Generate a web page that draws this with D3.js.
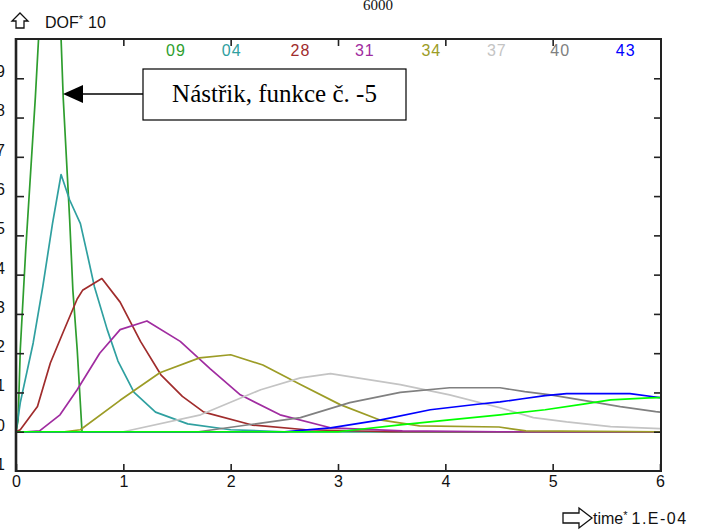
<!DOCTYPE html>
<html><head><meta charset="utf-8">
<script src="https://cdn.jsdelivr.net/npm/d3@7"></script>
<style>
html,body{margin:0;padding:0;background:#fff;}
svg{display:block;}
text{font-family:"Liberation Sans",Arial,sans-serif;}
</style></head>
<body>
<script>
// ---- data ----
const xTicks = [0,1,2,3,4,5,6];
const yTicks = [-1,0,1,2,3,4,5,6,7,8,9];
const seriesNames  = ["09","04","28","31","34","37","40","43",""];
const seriesColors = ["#2e9e2e","#2fa0a0","#a02c2c","#a02ca0","#9c9c26","#c4c4c4","#808080","#0000ff","#00ff00"];

const s09 = [[0,0],[0.02,0.3],[0.04,2.1],[0.09,4.6],[0.18,8.5],[0.21,10],[0.3,14],[0.42,10],[0.44,8.5],[0.50,5.4],[0.53,3.6],[0.57,2.1],[0.615,0],[6,0]];
const s04 = [[0,0],[0.04,0.74],[0.16,2.26],[0.25,3.7],[0.34,5.3],[0.42,6.55],[0.50,5.9],[0.60,5.3],[0.67,4.45],[0.73,3.7],[0.85,2.6],[0.95,1.8],[1.1,1.0],[1.3,0.5],[1.6,0.2],[2.0,0.05],[2.5,0],[6,0]];
const s28 = [[0,0],[0.04,0.05],[0.2,0.64],[0.32,1.75],[0.44,2.54],[0.57,3.38],[0.62,3.6],[0.8,3.9],[0.97,3.3],[1.16,2.3],[1.35,1.45],[1.55,0.9],[1.75,0.5],[2.2,0.17],[2.7,0.05],[3.5,0],[6,0]];
const s31 = [[0,0],[0.1,0],[0.22,0.02],[0.41,0.43],[0.57,1.07],[0.78,2.0],[0.97,2.6],[1.22,2.82],[1.53,2.3],[1.81,1.6],[2.09,0.94],[2.46,0.43],[2.93,0.1],[3.6,0.02],[4.5,0],[6,0]];
const s34 = [[0,0],[0.45,0],[0.6,0.05],[0.97,0.8],[1.34,1.5],[1.71,1.88],[2.0,1.96],[2.3,1.7],[2.65,1.2],[3.02,0.69],[3.39,0.3],[3.76,0.15],[4.5,0.12],[4.75,0.02],[6,0]];
const s37 = [[0,0],[1.0,0],[1.72,0.43],[2.28,1.07],[2.65,1.37],[2.93,1.48],[3.58,1.2],[4.04,0.94],[4.51,0.61],[4.82,0.36],[5.13,0.25],[5.54,0.13],[6.0,0.08]];
const s40 = [[0,0],[1.7,0],[2.65,0.36],[3.11,0.74],[3.58,1.0],[4.04,1.12],[4.51,1.12],[4.74,1.02],[4.98,0.94],[5.26,0.81],[5.63,0.64],[5.96,0.51],[6,0.5]];
const s43 = [[0,0],[2.5,0],[2.93,0.1],[3.4,0.3],[3.86,0.56],[4.3,0.7],[4.51,0.76],[4.72,0.84],[4.93,0.92],[5.13,0.97],[5.72,0.97],[5.94,0.89],[6,0.87]];
const sGreen = [[0,0],[3.0,0],[3.6,0.18],[4.04,0.3],[4.51,0.43],[4.93,0.56],[5.3,0.71],[5.54,0.81],[5.9,0.86],[6,0.87]];
const seriesData = [s09,s04,s28,s31,s34,s37,s40,s43,sGreen];
const labelX = [1.49,2.01,2.65,3.25,3.87,4.48,5.07,5.68];

// ---- layout ----
const W=701,H=530;
const svg=d3.select("body").append("svg").attr("width",W).attr("height",H);
const x=d3.scaleLinear().domain([0,6]).range([16,660]);
const y=d3.scaleLinear().domain([-1,10]).range([471,39]);

svg.append("defs").append("clipPath").attr("id","clip")
  .append("rect").attr("x",16).attr("y",39).attr("width",645).attr("height",432);

// curves
const line=d3.line().x(d=>x(d[0])).y(d=>y(d[1]));
const g=svg.append("g").attr("clip-path","url(#clip)");
seriesData.forEach((s,i)=>{
  g.append("path").attr("d",line(s)).attr("fill","none")
   .attr("stroke",seriesColors[i]).attr("stroke-width",1.7)
   .attr("stroke-linejoin","round");
});

// axes
const ax=svg.append("g");
const styleAxis=sel=>{sel.selectAll(".domain").remove();
  sel.selectAll("line").attr("stroke","#222").attr("stroke-width",1.6);
  sel.selectAll("text").attr("fill","#111").style("font-size","16px");};
ax.append("g").attr("transform","translate(0,471)")
  .call(d3.axisBottom(x).tickValues(xTicks).tickSizeInner(-7).tickSizeOuter(0).tickPadding(5).tickFormat(d3.format("d")))
  .call(styleAxis);
ax.append("g").attr("transform","translate(0,39)")
  .call(d3.axisTop(x).tickValues(xTicks.slice(1,-1)).tickSizeInner(-7).tickSizeOuter(0).tickFormat(""))
  .call(styleAxis);
const la=ax.append("g").attr("transform","translate(16,0)")
  .call(d3.axisLeft(y).tickValues(yTicks).tickSizeInner(-8).tickSizeOuter(0).tickPadding(11).tickFormat(d3.format("d")))
  .call(styleAxis);
la.selectAll("text").attr("dy","-0.1em");
la.selectAll(".tick").filter(d=>d===-1).select("line").remove();
ax.append("g").attr("transform","translate(661,0)")
  .call(d3.axisRight(y).tickValues(yTicks.slice(1)).tickSizeInner(-7).tickSizeOuter(0).tickFormat(""))
  .call(styleAxis);

// frame
svg.append("rect").attr("x",16).attr("y",39).attr("width",645).attr("height",432)
  .attr("fill","none").attr("stroke","#222").attr("stroke-width",2);
svg.append("line").attr("x1",16).attr("x2",16).attr("y1",38).attr("y2",472).attr("stroke","#222").attr("stroke-width",2.6);

// series labels at top
labelX.forEach((v,i)=>{
  svg.append("text").attr("x",x(v)).attr("y",56).attr("text-anchor","middle")
    .attr("fill",seriesColors[i]).style("font-size","16px").style("letter-spacing","1px").text(seriesNames[i]);
});

// header
svg.append("path").attr("d","M20,13 L28,21 L24,21 L24,28 L16,28 L16,21 L12,21 Z")
  .attr("fill","#fff").attr("stroke","#111").attr("stroke-width",1.3);
const hd=svg.append("text").attr("x",45).attr("y",28).attr("fill","#111").style("font-size","16px");
hd.append("tspan").text("DOF");
hd.append("tspan").attr("dy",-5).style("font-size","11px").text("*");
hd.append("tspan").attr("dy",5).attr("dx",5).text("10");

// bottom-right unit
svg.append("path").attr("d","M563,513 L579,513 L579,508 L592,518 L579,528 L579,523 L563,523 Z")
  .attr("fill","#fff").attr("stroke","#111").attr("stroke-width",1.3);
const ft=svg.append("text").attr("x",593).attr("y",524).attr("fill","#111").style("font-size","16px");
ft.append("tspan").text("time");
ft.append("tspan").attr("dy",-5).style("font-size","11px").text("*");
ft.append("tspan").attr("dy",5).attr("dx",4).style("letter-spacing","1.5px").text("1.E-04");

// top title (cut)
svg.append("text").attr("x",378).attr("y",10).attr("text-anchor","middle")
  .style("font-family","'Liberation Serif',serif").style("font-size","15px").attr("fill","#111").text("6000");

// annotation
svg.append("line").attr("x1",143).attr("x2",80).attr("y1",94).attr("y2",94).attr("stroke","#000").attr("stroke-width",1.3);
svg.append("path").attr("d","M63,94 L83,85 L83,103 Z").attr("fill","#000");
svg.append("rect").attr("x",143).attr("y",69).attr("width",263).attr("height",51)
  .attr("fill","#fff").attr("stroke","#000").attr("stroke-width",1.2);
svg.append("text").attr("x",274.5).attr("y",102).attr("text-anchor","middle")
  .style("font-family","'Liberation Serif','Times New Roman',serif").style("font-size","25px").attr("fill","#000")
  .text("Nástřik, funkce č. -5");
</script>
</body></html>
